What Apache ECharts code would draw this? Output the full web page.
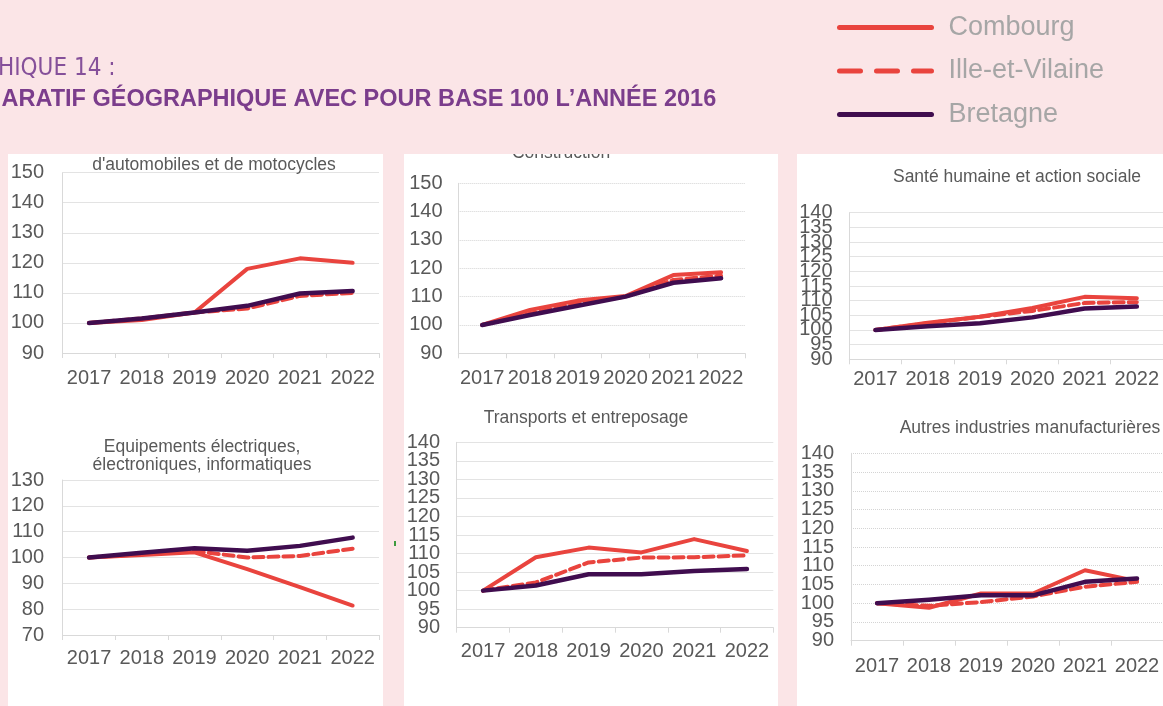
<!DOCTYPE html>
<html>
<head>
<meta charset="utf-8">
<script src="https://cdn.jsdelivr.net/npm/echarts@6/dist/echarts.min.js"></script>
<style>
    html, body { margin: 0; padding: 0; background: #fbe5e7; }
    #chart { width: 1163px; height: 706px; }
</style>
</head>
<body>
<div id="chart"></div>
<script>
const years = ['2017', '2018', '2019', '2020', '2021', '2022'];

// Commerce, réparation d'automobiles et de motocycles
const commerceCombourg = [100, 101, 103.5, 118, 121.5, 120];
const commerceIlle = [100, 101.5, 103.5, 104.8, 109, 110];
const commerceBretagne = [100, 101.5, 103.5, 105.7, 109.8, 110.6];

// Construction
const constructionCombourg = [100, 105.3, 108.6, 110.2, 117.6, 118.6];
const constructionIlle = [100, 104, 107.5, 110, 115.9, 117.4];
const constructionBretagne = [100, 103.5, 106.8, 110, 114.9, 116.5];

// Santé humaine et action sociale
const santeCombourg = [100, 102.5, 104.5, 107.5, 111.3, 110.8];
const santeIlle = [100, 102.3, 104.5, 106.5, 109.2, 109.5];
const santeBretagne = [100, 101.3, 102.3, 104.3, 107.3, 108];

// Equipements électriques, électroniques, informatiques
const equipCombourg = [100, 101, 102, 95.5, 88.5, 81.4];
const equipIlle = [100, 101.3, 102.5, 100, 100.6, 103.4];
const equipBretagne = [100, 101.8, 103.6, 102.6, 104.5, 107.7];

// Transports et entreposage
const transportCombourg = [100, 109, 111.6, 110.3, 113.9, 110.7];
const transportIlle = [100, 102.2, 107.6, 108.9, 109, 109.5];
const transportBretagne = [100, 101.4, 104.4, 104.4, 105.3, 105.8];

// Autres industries manufacturières
const autresCombourg = [100, 98.8, 102.6, 102.6, 108.8, 105.9];
const autresIlle = [100, 99.3, 100.3, 101.8, 104.4, 105.7];
const autresBretagne = [100, 100.9, 102.1, 102.1, 105.7, 106.6];

const RED = '#e9443e';
const PURPLE = '#400d4f';
const PINK = '#fbe5e7';
const LABEL = '#595959';
const FONT = '"Liberation Sans", Arial, sans-serif';

const panels = [
    {title: "d'automobiles et de motocycles", tx: 214, ty: 165,
        combourg: commerceCombourg, ille: commerceIlle, bretagne: commerceBretagne,
        min: 90, max: 150, interval: 10,
        left: 62.7, top: 172.7, width: 316.3, height: 180.3, yMargin: 18.6, xMargin: 15, dotted: false},
    {title: 'Construction', tx: 561, ty: 153.5,
        combourg: constructionCombourg, ille: constructionIlle, bretagne: constructionBretagne,
        min: 90, max: 150, interval: 10,
        left: 458.3, top: 183.3, width: 286.7, height: 170, yMargin: 15.8, xMargin: 14.7, dotted: true},
    {title: 'Santé humaine et action sociale', tx: 1017, ty: 176.8,
        combourg: santeCombourg, ille: santeIlle, bretagne: santeBretagne,
        min: 90, max: 140, interval: 5,
        left: 849.3, top: 212.7, width: 316.7, height: 146.6, yMargin: 16.8, xMargin: 10, dotted: false},
    {title: 'Equipements électriques,\nélectroniques, informatiques', tx: 202, ty: 456.5,
        combourg: equipCombourg, ille: equipIlle, bretagne: equipBretagne,
        min: 70, max: 130, interval: 10,
        left: 62.7, top: 480, width: 316.3, height: 155, yMargin: 18.6, xMargin: 13.3, dotted: false},
    {title: 'Transports et entreposage', tx: 586, ty: 418.3,
        combourg: transportCombourg, ille: transportIlle, bretagne: transportBretagne,
        min: 90, max: 140, interval: 5,
        left: 456.7, top: 442.3, width: 316.6, height: 185.4, yMargin: 16.6, xMargin: 14, dotted: false},
    {title: 'Autres industries manufacturières', tx: 1030, ty: 428.3,
        combourg: autresCombourg, ille: autresIlle, bretagne: autresBretagne,
        min: 90, max: 140, interval: 5,
        left: 851, top: 453.3, width: 317, height: 187.4, yMargin: 16.9, xMargin: 16, dotted: true}
];

function lineSeries(name, data, index, color, type, width) {
    return {
        name: name,
        type: 'line',
        xAxisIndex: index,
        yAxisIndex: index,
        data: data,
        symbol: 'none',
        lineStyle: {color: color, width: width, type: type, cap: 'round', join: 'round'},
        itemStyle: {color: color}
    };
}

function init_chart() {
    const chart = echarts.init(document.getElementById('chart'));
    const grids = [], xAxes = [], yAxes = [], endAxes = [], series = [];

    // white panels behind the charts
    const graphics = [
        {type: 'rect', z: -1, shape: {x: 8, y: 154, width: 375, height: 552}, style: {fill: '#ffffff'}},
        {type: 'rect', z: -1, shape: {x: 404, y: 154, width: 374, height: 552}, style: {fill: '#ffffff'}},
        {type: 'rect', z: -1, shape: {x: 797, y: 154, width: 366, height: 552}, style: {fill: '#ffffff'}},
        {type: 'rect', z: 1, shape: {x: 394, y: 541, width: 2, height: 5}, style: {fill: '#3e9a3e'}}
    ];

    panels.forEach(function (p, i) {
        const labelStyle = {color: LABEL, fontSize: 20, fontFamily: FONT, margin: p.yMargin};
        grids.push({left: p.left, top: p.top, width: p.width, height: p.height});
        xAxes.push({
            type: 'category',
            gridIndex: i,
            data: years,
            boundaryGap: true,
            axisLine: {lineStyle: {color: '#d9d9d9', width: 1}},
            axisTick: {show: true, length: 5, lineStyle: {color: '#d9d9d9'}},
            axisLabel: {color: LABEL, fontSize: 20, fontFamily: FONT, margin: p.xMargin, interval: 0}
        });
        yAxes.push({
            type: 'value',
            gridIndex: i,
            position: 'left',
            min: p.min,
            max: p.max,
            interval: p.interval,
            axisLine: {show: true, lineStyle: {color: '#d9d9d9', width: 1}},
            axisTick: {show: false},
            splitLine: {lineStyle: {color: p.dotted ? '#d4d4d4' : '#e3e3e3', type: p.dotted ? 'dotted' : 'solid'}},
            axisLabel: Object.assign({}, labelStyle, p.interval < 10 ? {} : {showMinLabel: true, showMaxLabel: true})
        });
        // packed axes: echarts drops the end labels, so a second axis draws only min and max
        if (p.interval < 10) {
            endAxes.push({
                type: 'value',
                gridIndex: i,
                position: 'left',
                min: p.min,
                max: p.max,
                interval: p.interval,
                axisLine: {show: false},
                axisTick: {show: false},
                splitLine: {show: false},
                axisLabel: Object.assign({}, labelStyle, {
                    showMinLabel: true,
                    showMaxLabel: true,
                    formatter: function (v) {
                        return (v === p.min || v === p.max) ? String(v) : '';
                    }
                })
            });
        }
        series.push(lineSeries('Combourg', p.combourg, i, RED, 'solid', 4));
        series.push(lineSeries('Ille-et-Vilaine', p.ille, i, RED, [10, 5], 4));
        series.push(lineSeries('Bretagne', p.bretagne, i, PURPLE, 'solid', 4.5));
        graphics.push({
            type: 'text', x: p.tx, y: p.ty, z: 1,
            style: {text: p.title, fill: LABEL, font: '17.5px ' + FONT, align: 'center', verticalAlign: 'middle', lineHeight: 18}
        });
    });

    // pink band over the top of the panels (clips the cut titles), then the header
    graphics.push({type: 'rect', z: 50, shape: {x: 0, y: 0, width: 1163, height: 154}, style: {fill: PINK}});
    graphics.push({
        type: 'text', x: -2, y: 68.3, z: 51,
        style: {text: 'HIQUE 14 :', fill: '#85509a', font: '24px "Liberation Sans Narrow", "DejaVu Sans Condensed", sans-serif', verticalAlign: 'middle'}
    });
    graphics.push({
        type: 'text', x: 1.5, y: 100, z: 51,
        style: {text: 'ARATIF GÉOGRAPHIQUE AVEC POUR BASE 100 L’ANNÉE 2016', fill: '#7b3d8c', font: 'bold 23.5px ' + FONT, verticalAlign: 'middle'}
    });

    const option = {
        animation: false,
        backgroundColor: PINK,
        legend: {
            z: 60,
            orient: 'vertical',
            left: 832,
            top: 9,
            itemWidth: 92,
            itemHeight: 28,
            itemGap: 16.5,
            selectedMode: false,
            textStyle: {fontSize: 27, color: '#a6a6a6', fontFamily: FONT, padding: [0, 0, 0, 12]},
            data: [
                {name: 'Combourg', itemStyle: {opacity: 0}, lineStyle: {width: 5, type: 'solid', color: RED}},
                {name: 'Ille-et-Vilaine', itemStyle: {opacity: 0}, lineStyle: {width: 5, type: [21, 16], color: RED}},
                {name: 'Bretagne', itemStyle: {opacity: 0}, lineStyle: {width: 5, type: 'solid', color: PURPLE}}
            ]
        },
        grid: grids,
        xAxis: xAxes,
        yAxis: yAxes.concat(endAxes),
        series: series,
        graphic: {elements: graphics}
    };

    chart.setOption(option);
}

init_chart();
</script>
</body>
</html>
